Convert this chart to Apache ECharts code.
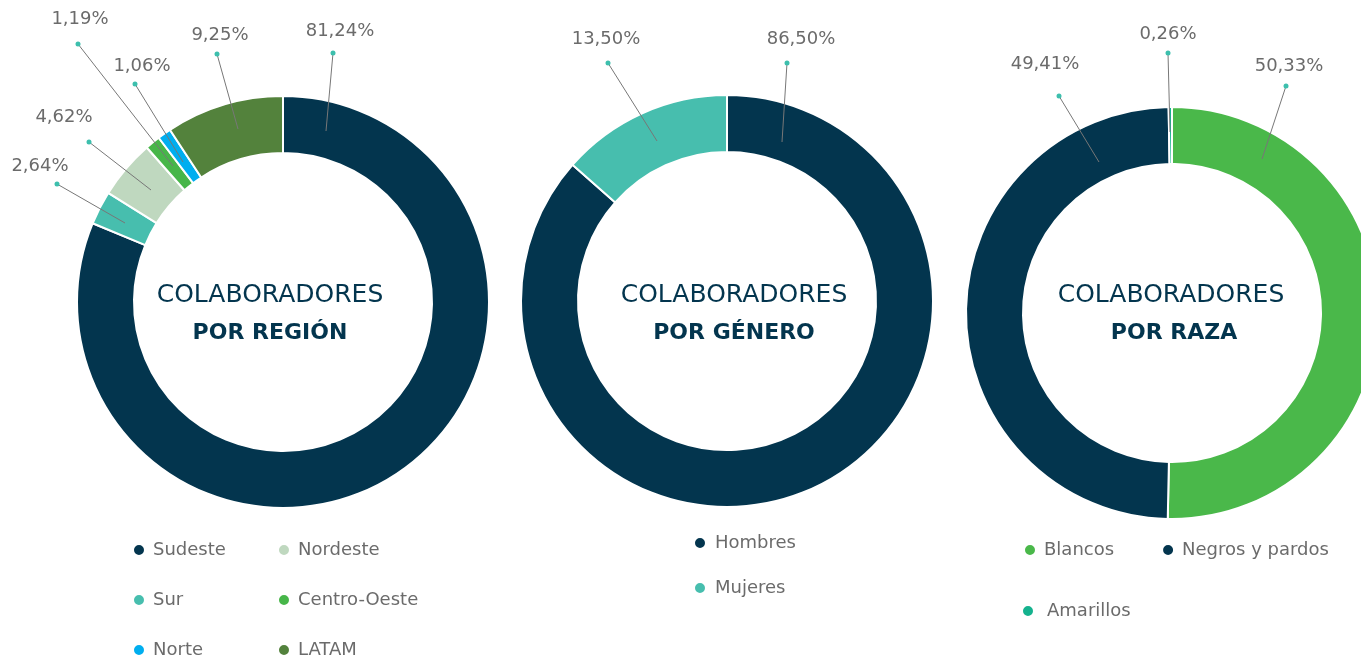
<!DOCTYPE html>
<html>
<head>
<meta charset="utf-8">
<title>Colaboradores</title>
<script src="https://cdn.jsdelivr.net/npm/echarts@6/dist/echarts.min.js"></script>
<style>
  html, body { margin: 0; padding: 0; background: #fff; }
  #main { width: 1361px; height: 659px; }
</style>
</head>
<body>
<div id="main"></div>
<script>
// datos
var regionNames = ['Sudeste', 'Sur', 'Nordeste', 'Centro-Oeste', 'Norte', 'LATAM']
var regionValues = [81.24, 2.64, 4.62, 1.19, 1.06, 9.25]
var generoNames = ['Hombres', 'Mujeres']
var generoValues = [86.5, 13.5]
var razaNames = ['Blancos', 'Negros y pardos', 'Amarillos']
var razaValues = [50.33, 49.41, 0.26]

var NAVY = '#03354E'
var GREY = '#6B6B6B'
var FONT = 'DejaVu Sans'

var colors = {
  'Sudeste': NAVY,
  'Sur': '#47BEAE',
  'Nordeste': '#BFD8BF',
  'Centro-Oeste': '#47B649',
  'Norte': '#00AEEF',
  'LATAM': '#53823C',
  'Hombres': NAVY,
  'Mujeres': '#47BEAE',
  'Blancos': '#4AB84A',
  'Negros y pardos': NAVY,
  'Amarillos': '#15B28E'
}

// donde va cada etiqueta: texto, punto y arranque de la linea
var spots = {
  region: [
    { text: [340, 31], dot: [333, 53], from: [326, 131] },
    { text: [40, 166], dot: [57, 184], from: [125, 223] },
    { text: [64, 117], dot: [89, 142], from: [151, 190] },
    { text: [80, 19], dot: [78, 44], from: [173, 166] },
    { text: [142, 66], dot: [135, 84], from: [183, 162] },
    { text: [220, 35], dot: [217, 54], from: [238, 129] }
  ],
  genero: [
    { text: [801, 39], dot: [787, 63], from: [782, 142] },
    { text: [606, 39], dot: [608, 63], from: [657, 141] }
  ],
  raza: [
    { text: [1289, 66], dot: [1286, 86], from: [1262, 159] },
    { text: [1045, 64], dot: [1059, 96], from: [1099, 162] },
    { text: [1168, 34], dot: [1168, 53], from: [1170, 132] }
  ]
}

function toData(names, values, see) {
  return names.map(function (n, i) {
    return { name: n, value: values[i], itemStyle: { color: see ? colors[n] : 'rgba(0,0,0,0)' } }
  })
}

function layoutFor(key) {
  return function (params) {
    var s = spots[key][params.dataIndex]
    return {
      x: s.text[0],
      y: s.text[1],
      align: 'center',
      verticalAlign: 'middle',
      labelLinePoints: [s.from, s.dot, s.dot]
    }
  }
}

// anillo visible
function donut(key, names, values, center) {
  return {
    type: 'pie',
    name: key,
    z: 2,
    center: center,
    radius: [149, 206],
    startAngle: 90,
    clockwise: true,
    itemStyle: { borderColor: '#fff', borderWidth: 2 },
    label: { show: false },
    labelLine: { show: false },
    emphasis: { disabled: true },
    data: toData(names, values, true)
  }
}

// misma rosca transparente encima, solo para etiquetas y lineas
function labels(key, names, values, center) {
  return {
    type: 'pie',
    name: key + '-labels',
    z: 6,
    center: center,
    radius: [149, 206],
    startAngle: 90,
    clockwise: true,
    silent: true,
    avoidLabelOverlap: false,
    label: {
      show: true,
      position: 'outside',
      color: GREY,
      fontSize: 18,
      fontFamily: FONT,
      formatter: function (p) {
        return p.value.toFixed(2).replace('.', ',') + '%'
      }
    },
    labelLine: {
      show: true,
      length: 10,
      length2: 0,
      lineStyle: { color: '#777', width: 1 }
    },
    labelLayout: layoutFor(key),
    emphasis: { disabled: true },
    data: toData(names, values, false)
  }
}

function centerText(x1, x2, y, line2) {
  return [
    {
      type: 'text', x: x1, y: y, z: 10,
      style: { text: 'COLABORADORES', fill: NAVY, font: '25px "DejaVu Sans"', align: 'center', verticalAlign: 'middle' }
    },
    {
      type: 'text', x: x2, y: y + 38, z: 10,
      style: { text: line2, fill: NAVY, font: 'bold 22px "DejaVu Sans"', align: 'center', verticalAlign: 'middle' }
    }
  ]
}

var graphics = []
graphics = graphics.concat(centerText(270, 270, 295, 'POR REGIÓN'))
graphics = graphics.concat(centerText(734, 734, 295, 'POR GÉNERO'))
graphics = graphics.concat(centerText(1171, 1174, 295, 'POR RAZA'))
Object.keys(spots).forEach(function (k) {
  spots[k].forEach(function (s) {
    graphics.push({
      type: 'circle', z: 20,
      shape: { cx: s.dot[0], cy: s.dot[1], r: 2.5 },
      style: { fill: '#3DBFAD' }
    })
  })
})

function legend(data, left, top, orient, gap, padLeft) {
  return {
    data: data,
    left: left,
    top: top,
    orient: orient,
    itemGap: gap,
    padding: 0,
    icon: 'circle',
    itemWidth: 12,
    itemHeight: 12,
    selectedMode: false,
    textStyle: { color: GREY, fontSize: 18, fontFamily: FONT, padding: [7, 0, 0, padLeft] }
  }
}

var myChart = echarts.init(document.getElementById('main'))
myChart.setOption({
  animation: false,
  legend: [
    legend(['Sudeste', 'Sur', 'Norte'], 132, 541, 'vertical', 32, 3),
    legend(['Nordeste', 'Centro-Oeste', 'LATAM'], 277, 541, 'vertical', 32, 3),
    legend(['Hombres', 'Mujeres'], 693, 534, 'vertical', 27, 4),
    legend(['Blancos', 'Negros y pardos'], 1023, 541, 'horizontal', 47, 3),
    legend(['Amarillos'], 1021, 602, 'horizontal', 10, 8)
  ],
  graphic: graphics,
  series: [
    donut('region', regionNames, regionValues, [283, 302]),
    donut('genero', generoNames, generoValues, [727, 301]),
    donut('raza', razaNames, razaValues, [1172, 313]),
    labels('region', regionNames, regionValues, [283, 302]),
    labels('genero', generoNames, generoValues, [727, 301]),
    labels('raza', razaNames, razaValues, [1172, 313])
  ]
})
</script>
</body>
</html>
